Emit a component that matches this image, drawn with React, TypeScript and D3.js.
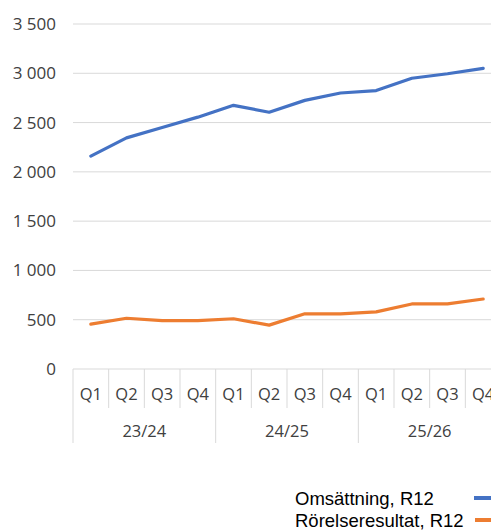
import * as d3 from 'd3';

const QUARTERS = ['Q1', 'Q2', 'Q3', 'Q4', 'Q1', 'Q2', 'Q3', 'Q4', 'Q1', 'Q2', 'Q3', 'Q4'];
const YEARS = ['23/24', '24/25', '25/26'];
const OMSATTNING = [2160, 2345, 2450, 2555, 2675, 2605, 2725, 2800, 2825, 2950, 2995, 3050];
const RORELSERESULTAT = [455, 515, 490, 490, 510, 445, 560, 560, 580, 660, 660, 710];
const Y_TICKS = [0, 500, 1000, 1500, 2000, 2500, 3000, 3500];

const W = 491;
const H = 531;
const BLUE = '#4472C4';
const ORANGE = '#ED7D31';
const GRID = '#D9D9D9';
const TEXT = '#404040';
const FONT = '"Open Sans", sans-serif';

const fmt = (v: number) => {
  // swedish style thousands separator with a space
  const s = String(v);
  return s.length > 3 ? s.slice(0, s.length - 3) + ' ' + s.slice(-3) : s;
};

export default function App() {
  const x = d3.scaleBand<number>().domain(d3.range(QUARTERS.length)).range([73, 501]).padding(0);
  const y = d3.scaleLinear().domain([0, 3500]).range([369, 24]);
  const cx = (i: number) => (x(i) ?? 0) + x.bandwidth() / 2;

  const line = d3
    .line<number>()
    .x((_, i) => cx(i))
    .y((d) => y(d));

  const base = y(0);

  return (
    <svg
      width={W}
      height={H}
      style={{ position: 'absolute', left: 0, top: 0, background: '#fff' }}
      fontFamily={FONT}
    >
      {/* gridlines + y labels */}
      {Y_TICKS.map((t) => (
        <g key={t}>
          {t > 0 && <line x1={73} x2={W} y1={y(t)} y2={y(t)} stroke={GRID} strokeWidth={1} />}
          <text x={56} y={y(t) + 6} textAnchor="end" fontSize={17} fill={TEXT}>
            {fmt(t)}
          </text>
        </g>
      ))}

      {/* category axis */}
      <line x1={73} x2={W} y1={base} y2={base} stroke={GRID} strokeWidth={1} />
      {QUARTERS.map((q, i) => {
        const left = x(i) ?? 0;
        const groupEdge = i % 4 === 0;
        return (
          <g key={i}>
            <line x1={left} x2={left} y1={base} y2={groupEdge ? 443 : 408} stroke={GRID} strokeWidth={1} />
            <text x={cx(i)} y={400} textAnchor="middle" fontSize={16.5} fill={TEXT}>
              {q}
            </text>
          </g>
        );
      })}
      {YEARS.map((yr, g) => {
        const left = x(g * 4) ?? 0;
        const mid = left + (x.bandwidth() * 4) / 2;
        return (
          <text key={yr} x={mid} y={437} textAnchor="middle" fontSize={16.5} fill={TEXT}>
            {yr}
          </text>
        );
      })}

      {/* series */}
      <path d={line(OMSATTNING) ?? ''} fill="none" stroke={BLUE} strokeWidth={3.2} strokeLinejoin="round" strokeLinecap="round" />
      <path d={line(RORELSERESULTAT) ?? ''} fill="none" stroke={ORANGE} strokeWidth={3.2} strokeLinejoin="round" strokeLinecap="round" />

      {/* legend */}
      <g fontFamily='"Liberation Sans", Arial, sans-serif' fontSize={18.5} fill="#000">
        <text x={295} y={505}>Omsättning, R12</text>
        <line x1={474} x2={W} y1={498} y2={498} stroke={BLUE} strokeWidth={4} />
        <text x={295} y={527}>Rörelseresultat, R12</text>
        <line x1={475} x2={W} y1={520} y2={520} stroke={ORANGE} strokeWidth={4} />
      </g>
    </svg>
  );
}
